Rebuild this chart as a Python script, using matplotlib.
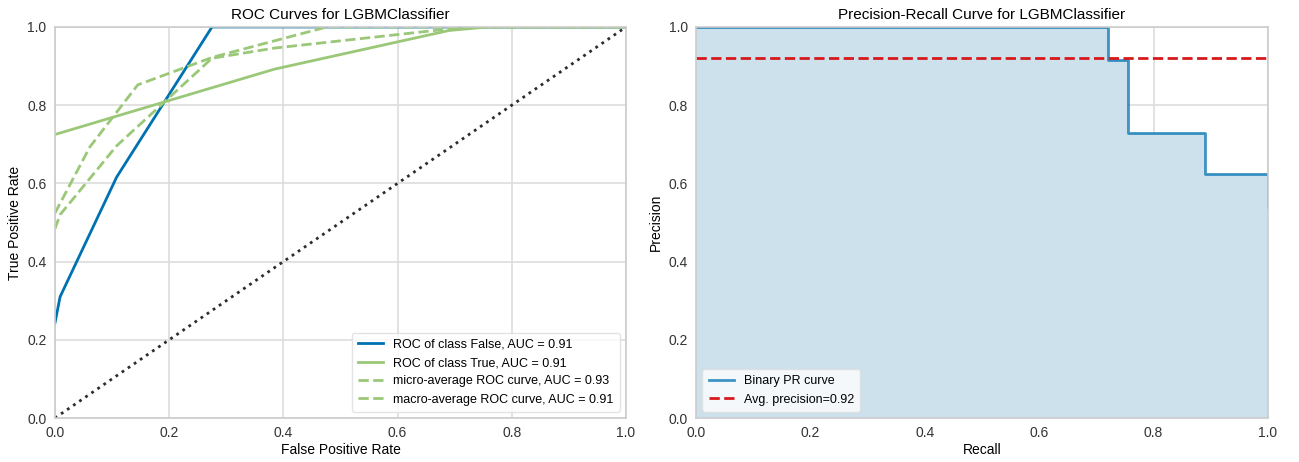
import matplotlib
matplotlib.use('Agg')
import matplotlib.pyplot as plt

plt.rcParams['font.family'] = ['Liberation Sans', 'DejaVu Sans']
plt.rcParams['font.size'] = 10

# ROC curves
fpr_false = [0.0, 0.009, 0.108, 0.275, 1.0]
tpr_false = [0.243, 0.31, 0.616, 1.0, 1.0]
fpr_true = [0.0, 0.384, 0.69, 0.757, 1.0]
tpr_true = [0.725, 0.892, 0.991, 1.0, 1.0]
fpr_micro = [0.0, 0.061, 0.145, 0.277, 0.476, 1.0]
tpr_micro = [0.524, 0.693, 0.852, 0.923, 1.0, 1.0]
fpr_macro = [0.0, 0.009, 0.108, 0.275, 0.384, 0.69, 0.757, 1.0]
tpr_macro = [0.484, 0.52, 0.696, 0.92, 0.946, 0.995, 1.0, 1.0]
roc_labels = ['ROC of class False, AUC = 0.91',
              'ROC of class True, AUC = 0.91',
              'micro-average ROC curve, AUC = 0.93',
              'macro-average ROC curve, AUC = 0.91']

# precision-recall curve
recall = [0.0, 0.72, 0.755, 0.89, 0.99, 1.0, 1.0]
precision = [1.0, 0.915, 0.729, 0.624, 0.624, 0.60, 0.54]
avg_precision = 0.92

BLUE = '#0072B2'
GREEN = '#9bc878'
GRID = '#dddddd'

fig = plt.figure(figsize=(12.99, 4.62), dpi=100)
ax1 = fig.add_axes([0.0423, 0.0952, 0.4396, 0.8464])
ax2 = fig.add_axes([0.5358, 0.0952, 0.4403, 0.8464])

for ax in (ax1, ax2):
    ax.set_facecolor('white')
    ax.grid(True, color=GRID, linewidth=1.2)
    ax.set_axisbelow(True)
    for s in ax.spines.values():
        s.set_color('#cccccc')
        s.set_linewidth(1.2)
        s.set_zorder(5)
    ax.tick_params(length=0, labelsize=10, colors='#333333', pad=6)
    ax.set_xlim(0, 1)
    ax.set_ylim(0, 1)

ax1.plot(fpr_false, tpr_false, color=BLUE, lw=2, label=roc_labels[0])
ax1.plot(fpr_true, tpr_true, color=GREEN, lw=2, label=roc_labels[1])
ax1.plot(fpr_micro, tpr_micro, color=GREEN, lw=2, ls='--', label=roc_labels[2])
ax1.plot(fpr_macro, tpr_macro, color=GREEN, lw=2, ls='--', label=roc_labels[3])
ax1.plot([0, 1], [0, 1], color='#2d2d2d', ls=':', lw=2)
ax1.set_title('ROC Curves for LGBMClassifier', fontsize=11, pad=6)
ax1.set_xlabel('False Positive Rate', labelpad=2)
ax1.set_ylabel('True Positive Rate')
ax1.legend(loc='lower right', frameon=True, fontsize=9, framealpha=0.8,
           edgecolor='#dddddd', borderpad=0.5)

ax2.fill_between(recall, precision, step='post', color='#cce1ec', lw=0, zorder=2)
ax2.step(recall, precision, where='post', color=BLUE, alpha=0.75, lw=2,
         label='Binary PR curve', zorder=3)
ax2.axhline(avg_precision, color='#d7191c', ls='--', lw=2, zorder=3,
            label='Avg. precision={:0.2f}'.format(avg_precision))
ax2.set_title('Precision-Recall Curve for LGBMClassifier', fontsize=11, pad=6)
ax2.set_xlabel('Recall', labelpad=2)
ax2.set_ylabel('Precision')
ax2.legend(loc='lower left', frameon=True, fontsize=9, framealpha=0.8,
           edgecolor='#dddddd', borderpad=0.5)

fig.savefig('out.png', dpi=100)
